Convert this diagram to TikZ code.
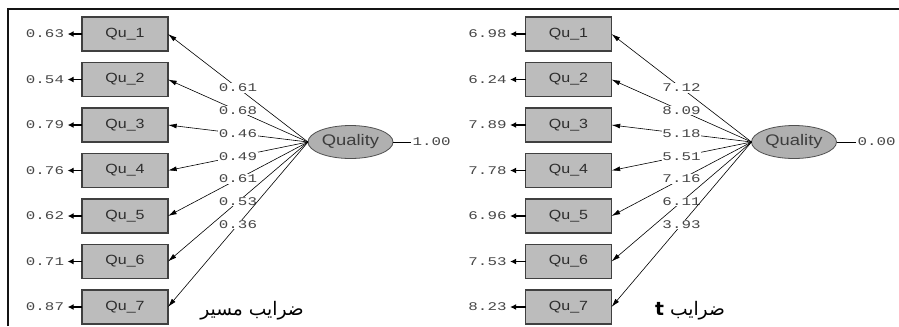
\documentclass[tikz,border=0pt]{standalone}
\usepackage{fontspec}
\setmainfont{Liberation Sans}
\newfontfamily\boxfont[FakeStretch=1.2]{Liberation Sans}
\newfontfamily\numfont[FakeStretch=1.35]{Liberation Mono}
\newfontfamily\arabicfont[Script=Arabic]{DejaVu Sans}
\TeXXeTstate=1
\usetikzlibrary{shapes.geometric,arrows.meta}

\begin{document}
\begin{tikzpicture}[x=0.75pt,y=0.75pt,yscale=-1,xscale=1,
  itembox/.style={draw={rgb, 255:red, 64; green, 64; blue, 64 }, line width=0.8pt, fill={rgb, 255:red, 188; green, 188; blue, 188 }, minimum width=64.5pt, minimum height=25.5pt, inner sep=0pt, outer sep=0pt, text={rgb, 255:red, 45; green, 45; blue, 45 }, font=\boxfont\fontsize{10}{11}\selectfont},
  latent/.style={ellipse, draw={rgb, 255:red, 80; green, 80; blue, 80 }, line width=0.6pt, fill={rgb, 255:red, 176; green, 176; blue, 176 }, minimum width=63.75pt, minimum height=24.75pt, inner sep=0pt, outer sep=0pt, text={rgb, 255:red, 60; green, 60; blue, 60 }, font=\boxfont\fontsize{11.5}{12}\selectfont},
  numlbl/.style={inner sep=1pt, text={rgb, 255:red, 70; green, 70; blue, 70 }, font=\numfont\fontsize{8.8}{9}\selectfont},
  errlbl/.style={numlbl, inner sep=2.5pt},
  coef/.style={numlbl, fill=white, inner sep=0.5pt},
  patharrow/.style={line width=0.45pt, -{Latex[length=6.5pt,width=3.6pt]}},
  errarrow/.style={line width=1.2pt, -{Latex[length=4.5pt,width=4.5pt]}},
  caption/.style={inner sep=0pt, font=\arabicfont\fontsize{14}{16}\selectfont}]
\useasboundingbox (0,0) rectangle (899,326);

%Straight Lines: frame
\draw [line width=1.1pt, color={rgb, 255:red, 20; green, 20; blue, 20 }] (8,326) -- (8,9) -- (899,9) ;

% ---- path coefficients ----
%Shape: Rectangle
\node [itembox] (a1) at (125,34) {Qu\_1};
\node [itembox] (a2) at (125,79.5) {Qu\_2};
\node [itembox] (a3) at (125,125) {Qu\_3};
\node [itembox] (a4) at (125,170.5) {Qu\_4};
\node [itembox] (a5) at (125,216) {Qu\_5};
\node [itembox] (a6) at (125,261.5) {Qu\_6};
\node [itembox] (a7) at (125,307) {Qu\_7};
%Shape: Ellipse
\node [latent] (ql) at (350.5,142) {Quality};
% Text Node
\node [numlbl, anchor=west] (vl) at (411,142) {1.00};
\draw [line width=0.45pt] (ql.east) -- (vl.west) ;

% Text Node
\node [errlbl] (ea1) at (45,34) {0.63};
\node [errlbl] (ea2) at (45,79.5) {0.54};
\node [errlbl] (ea3) at (45,125) {0.79};
\node [errlbl] (ea4) at (45,170.5) {0.76};
\node [errlbl] (ea5) at (45,216) {0.62};
\node [errlbl] (ea6) at (45,261.5) {0.71};
\node [errlbl] (ea7) at (45,307) {0.87};
%Straight Lines
\draw [errarrow] (a1.west) -- (ea1.east) ;
\draw [errarrow] (a2.west) -- (ea2.east) ;
\draw [errarrow] (a3.west) -- (ea3.east) ;
\draw [errarrow] (a4.west) -- (ea4.east) ;
\draw [errarrow] (a5.west) -- (ea5.east) ;
\draw [errarrow] (a6.west) -- (ea6.east) ;
\draw [errarrow] (a7.west) -- (ea7.east) ;

%Straight Lines
\draw [patharrow] (ql.west) -- node [coef] {0.61} (a1.east) ;
\draw [patharrow] (ql.west) -- node [coef] {0.68} (a2.east) ;
\draw [patharrow] (ql.west) -- node [coef] {0.46} (a3.east) ;
\draw [patharrow] (ql.west) -- node [coef] {0.49} (a4.east) ;
\draw [patharrow] (ql.west) -- node [coef] {0.61} (a5.east) ;
\draw [patharrow] (ql.west) -- node [coef] {0.53} (a6.east) ;
\draw [patharrow] (ql.west) -- node [coef] {0.36} (a7.east) ;

% Text Node
\node [caption] (capl) at (252,311) {\beginR ضرایب مسیر\endR};

% ---- t values ----
%Shape: Rectangle
\node [itembox] (b1) at (568.5,34) {Qu\_1};
\node [itembox] (b2) at (568.5,79.5) {Qu\_2};
\node [itembox] (b3) at (568.5,125) {Qu\_3};
\node [itembox] (b4) at (568.5,170.5) {Qu\_4};
\node [itembox] (b5) at (568.5,216) {Qu\_5};
\node [itembox] (b6) at (568.5,261.5) {Qu\_6};
\node [itembox] (b7) at (568.5,307) {Qu\_7};
%Shape: Ellipse
\node [latent] (qr) at (794,142) {Quality};
% Text Node
\node [numlbl, anchor=west] (vr) at (856,142) {0.00};
\draw [line width=0.45pt] (qr.east) -- (vr.west) ;

% Text Node
\node [errlbl] (eb1) at (487.5,34) {6.98};
\node [errlbl] (eb2) at (487.5,79.5) {6.24};
\node [errlbl] (eb3) at (487.5,125) {7.89};
\node [errlbl] (eb4) at (487.5,170.5) {7.78};
\node [errlbl] (eb5) at (487.5,216) {6.96};
\node [errlbl] (eb6) at (487.5,261.5) {7.53};
\node [errlbl] (eb7) at (487.5,307) {8.23};
%Straight Lines
\draw [errarrow] (b1.west) -- (eb1.east) ;
\draw [errarrow] (b2.west) -- (eb2.east) ;
\draw [errarrow] (b3.west) -- (eb3.east) ;
\draw [errarrow] (b4.west) -- (eb4.east) ;
\draw [errarrow] (b5.west) -- (eb5.east) ;
\draw [errarrow] (b6.west) -- (eb6.east) ;
\draw [errarrow] (b7.west) -- (eb7.east) ;

%Straight Lines
\draw [patharrow] (qr.west) -- node [coef] {7.12} (b1.east) ;
\draw [patharrow] (qr.west) -- node [coef] {8.09} (b2.east) ;
\draw [patharrow] (qr.west) -- node [coef] {5.18} (b3.east) ;
\draw [patharrow] (qr.west) -- node [coef] {5.51} (b4.east) ;
\draw [patharrow] (qr.west) -- node [coef] {7.16} (b5.east) ;
\draw [patharrow] (qr.west) -- node [coef] {6.11} (b6.east) ;
\draw [patharrow] (qr.west) -- node [coef] {3.93} (b7.east) ;

% Text Node
\node [caption] (capr) at (690,311) {\beginR ضرایب {\bfseries t}\endR};

\end{tikzpicture}
\end{document}
